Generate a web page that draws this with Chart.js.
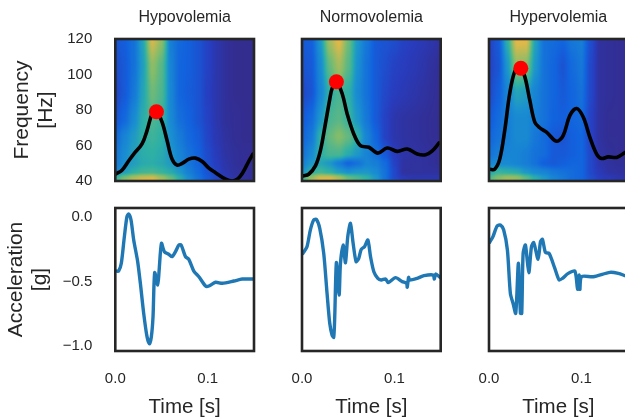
<!DOCTYPE html>
<html><head><meta charset="utf-8">
<style>html,body{margin:0;padding:0;background:#fff;overflow:hidden;width:625px;height:420px}
#w{position:relative;width:625px;height:420px;overflow:hidden}canvas{position:absolute}</style>
<script src="https://cdn.jsdelivr.net/npm/chart.js@4/dist/chart.umd.min.js"></script>
</head><body><div id="w"></div>
<script>
const titles=["Hypovolemia","Normovolemia","Hypervolemia"];
const freqTicks=[40,60,80,100,120];
const accelTicks=[-1,-0.5,0];
const timeTicks=[0,0.1];
const timeBins=[0,.01,.02,.03,.04,.05,.06,.07,.08,.09,.1,.11,.12,.13,.14,.15];
const freqBins=[120,105,90,75,65,55,50,45,42,40];
const heat1=[
[.20,.24,.30,.46,.82,.68,.34,.27,.24,.20,.14,.08,.04,.02,.02,.02],
[.18,.22,.30,.44,.68,.58,.36,.26,.24,.20,.14,.08,.04,.02,.02,.02],
[.15,.22,.32,.46,.62,.56,.37,.26,.23,.20,.13,.08,.04,.02,.02,.02],
[.20,.27,.38,.49,.56,.52,.38,.29,.25,.20,.14,.08,.04,.03,.02,.02],
[.27,.36,.43,.50,.53,.50,.40,.33,.27,.23,.15,.09,.05,.03,.02,.02],
[.31,.39,.45,.49,.50,.48,.42,.36,.30,.25,.17,.11,.06,.04,.03,.03],
[.32,.40,.44,.48,.49,.47,.43,.37,.31,.26,.18,.12,.07,.04,.03,.03],
[.36,.44,.50,.54,.55,.52,.48,.42,.34,.28,.20,.14,.08,.05,.04,.03],
[.50,.62,.72,.78,.80,.70,.60,.48,.38,.30,.22,.15,.10,.06,.04,.03],
[.55,.70,.80,.86,.86,.75,.65,.50,.40,.30,.22,.15,.10,.06,.04,.03]];
const heat2=[
[.22,.24,.42,.72,.85,.62,.42,.32,.22,.20,.18,.14,.12,.10,.08,.05],
[.20,.22,.38,.60,.72,.58,.40,.30,.22,.18,.14,.12,.10,.08,.05,.03],
[.16,.20,.36,.50,.55,.50,.38,.30,.22,.16,.12,.10,.08,.06,.04,.02],
[.22,.28,.42,.55,.58,.52,.42,.32,.22,.14,.08,.06,.05,.04,.03,.02],
[.26,.32,.50,.60,.66,.60,.50,.36,.26,.14,.08,.06,.05,.04,.03,.02],
[.30,.38,.50,.55,.55,.48,.42,.36,.30,.22,.12,.07,.06,.05,.04,.03],
[.34,.42,.46,.42,.34,.26,.30,.36,.34,.28,.14,.06,.05,.05,.04,.03],
[.40,.50,.54,.50,.44,.40,.42,.42,.38,.30,.16,.05,.05,.05,.05,.05],
[.50,.68,.80,.80,.72,.60,.55,.50,.42,.30,.16,.10,.08,.08,.08,.08],
[.55,.72,.84,.85,.75,.62,.58,.50,.42,.30,.20,.12,.10,.10,.10,.10]];
const heat3=[
[.14,.22,.50,.85,.85,.45,.30,.28,.26,.32,.34,.18,.05,.04,.03,.03],
[.14,.20,.42,.68,.66,.42,.30,.26,.20,.28,.32,.16,.05,.04,.03,.03],
[.16,.24,.36,.46,.44,.36,.30,.26,.22,.26,.30,.16,.05,.04,.03,.03],
[.22,.28,.34,.38,.38,.34,.30,.25,.24,.26,.28,.14,.05,.03,.03,.03],
[.26,.30,.34,.38,.38,.32,.28,.22,.20,.24,.26,.14,.05,.03,.03,.03],
[.30,.34,.36,.36,.34,.30,.28,.22,.22,.24,.26,.16,.06,.04,.03,.03],
[.36,.38,.38,.36,.34,.30,.24,.22,.24,.26,.26,.16,.08,.05,.04,.04],
[.46,.52,.50,.48,.42,.38,.36,.32,.30,.28,.26,.16,.10,.06,.05,.05],
[.55,.65,.70,.68,.58,.48,.42,.36,.32,.28,.26,.18,.12,.10,.08,.06],
[.60,.68,.74,.70,.60,.50,.44,.36,.32,.28,.26,.18,.14,.10,.08,.06]];
const fTime1=[0,.0072,.0145,.0199,.0289,.0343,.0398,.0445,.0506,.056,.0614,.0669,.0723,.0795,.0867,.094,.1012,.1084,.1193,.1265,.1319,.1373,.1446,.1489];
const fVal1=[43.8,46.1,51.4,55.2,60.9,68.4,77.9,79.2,73.2,62.8,52.3,48.9,49.9,52.3,52.9,51,47.2,44.7,41,40,41,44.2,51.4,55.2];
const fTime2=[.001,.0072,.0145,.0199,.0253,.03,.0325,.0372,.0434,.0488,.056,.0632,.0723,.082,.0922,.103,.1138,.1247,.1337,.1409,.1482];
const fVal2=[42.8,43.8,48.5,57.1,72.2,86,92.1,95.9,89.3,77.9,66.5,59.9,59,55.7,58.6,56.7,58,55.2,54.8,57,61.4];
const fTime3=[.0007,.0061,.0116,.017,.0224,.0278,.0332,.0387,.0441,.0495,.0549,.0622,.073,.0802,.0875,.0947,.1019,.1091,.1164,.1218,.129,.1381,.1471];
const fVal3=[46.6,46.6,52.3,68.4,89.3,101.6,104.5,98.8,85.5,73.2,70,67.5,62.4,65.6,77,80.8,76,64.6,55.2,52.7,53.6,53.3,56.1];
const peakTime=[.0445,.0372,.0344];
const peakFreq=[79,95.9,103.5];
const aTime1=[.0007,.0036,.0065,.0098,.0126,.0145,.017,.0199,.0242,.0271,.0307,.0343,.0369,.039,.0408,.0426,.0459,.0473,.0499,.0531,.0578,.0614,.0651,.0687,.0712,.0759,.0795,.0849,.0904,.0976,.1012,.1084,.1157,.1283,.1373,.1489];
const aVal1=[-.419,-.419,-.359,-.152,.003,.023,-.023,-.178,-.346,-.514,-.747,-.928,-.984,-.928,-.773,-.432,-.527,-.424,-.204,-.269,-.289,-.307,-.269,-.217,-.217,-.307,-.328,-.419,-.463,-.535,-.535,-.506,-.514,-.496,-.481,-.481];
const aTime2=[.001,.0054,.009,.0126,.0155,.0192,.0235,.0271,.03,.0325,.0343,.0354,.0372,.0401,.0416,.0445,.047,.0495,.0524,.0553,.0585,.0614,.064,.0676,.0712,.0741,.0777,.082,.0857,.0904,.0932,.1012,.1084,.1131,.1138,.1153,.1164,.1247,.1319,.142,.1431,.1446,.1493];
const aVal2=[-.282,-.23,-.101,-.023,-.018,-.088,-.282,-.592,-.824,-.915,-.933,-.773,-.354,-.605,-.359,-.217,-.354,-.152,-.049,-.204,-.346,-.32,-.251,-.23,-.178,-.307,-.424,-.475,-.488,-.481,-.509,-.47,-.501,-.514,-.545,-.468,-.488,-.475,-.455,-.45,-.481,-.442,-.468];
const aTime3=[.0007,.0043,.0087,.0123,.0159,.0199,.0231,.026,.0289,.0318,.034,.0354,.0369,.0394,.043,.0459,.0484,.0531,.0557,.0578,.0611,.065,.0712,.0759,.0795,.0857,.0929,.0958,.0976,.0983,.1001,.1128,.1308,.1399,.1471];
const aVal3=[-.196,-.152,-.07,-.062,-.101,-.256,-.592,-.669,-.747,-.359,-.747,-.747,-.282,-.217,-.432,-.23,-.199,-.328,-.191,-.173,-.276,-.282,-.398,-.488,-.475,-.437,-.419,-.561,-.45,-.561,-.463,-.463,-.429,-.437,-.455];

const heats=[heat1,heat2,heat3];
const fTimes=[fTime1,fTime2,fTime3],fVals=[fVal1,fVal2,fVal3];
const aTimes=[aTime1,aTime2,aTime3],aVals=[aVal1,aVal2,aVal3];
const pts=(xs,ys)=>xs.map((x,i)=>({x,y:ys[i]}));

const cmapStops=[[0,53,42,135],[.12,40,60,190],[.25,18,98,222],[.4,26,144,208],[.5,46,176,165],[.65,128,188,108],[.85,232,184,70],[1,249,251,14]];
function cmap(v){for(let i=1;i<cmapStops.length;i++){const a=cmapStops[i-1],b=cmapStops[i];if(v<=b[0]){const t=(v-a[0])/(b[0]-a[0]);return [a[1]+t*(b[1]-a[1]),a[2]+t*(b[2]-a[2]),a[3]+t*(b[3]-a[3])];}}return cmapStops[cmapStops.length-1].slice(1);}
function locate(arr,v){for(let i=0;i<arr.length-1;i++){const a=arr[i],b=arr[i+1];const t=(v-a)/(b-a);if(t<=1||i===arr.length-2)return [i,Math.max(0,Math.min(1,t))];}}
const smooth=t=>t*t*(3-2*t)*.6+t*.4;
function heatPlugin(grid){return {id:'heat',beforeDatasetsDraw(c){
  const a=c.chartArea,xs=c.scales.x,ys=c.scales.y,w=Math.round(a.right-a.left),h=Math.round(a.bottom-a.top);
  const off=document.createElement('canvas');off.width=w;off.height=h;const g=off.getContext('2d');const im=g.createImageData(w,h);
  for(let j=0;j<h;j++){const [r,fr0]=locate(freqBins,ys.getValueForPixel(a.top+j+.5));const fr=smooth(fr0);
    for(let i=0;i<w;i++){const [q,ft0]=locate(timeBins,xs.getValueForPixel(a.left+i+.5));const ft=smooth(ft0);
      const v=(grid[r][q]*(1-ft)+grid[r][q+1]*ft)*(1-fr)+(grid[r+1][q]*(1-ft)+grid[r+1][q+1]*ft)*fr;
      const col=cmap(v),k=(j*w+i)*4;im.data[k]=col[0];im.data[k+1]=col[1];im.data[k+2]=col[2];im.data[k+3]=255;}}
  g.putImageData(im,0,0);c.ctx.drawImage(off,a.left,a.top,a.right-a.left,a.bottom-a.top);
}};}
const framePlugin={id:'frame',afterDraw(c){const a=c.chartArea,x=c.ctx;x.save();x.strokeStyle='#262626';x.lineWidth=2.6;x.strokeRect(a.left,a.top,a.right-a.left,a.bottom-a.top);x.restore();}};

const FONT='"Liberation Sans", Arial, sans-serif',INK='#262626';
const lefts=[115.3,302,488.6],PW=138.7;
const TOP1=39,BOT1=181,TOP2=208,BOT2=351;
const wrap=document.getElementById('w');
const noPad=s=>{s.paddingTop=s.paddingBottom=s.paddingLeft=s.paddingRight=0;};
function mk(col,row){
  const isL=col===0,isB=row===1,pad=2,lp=24,bp=10;
  const cl=isL?0:lefts[col]-lp, cw=(isL?lefts[0]:lp)+PW+pad;
  const ct=isB?TOP2-8:0, cb=isB?420:BOT1+bp;
  const cv=document.createElement('canvas');
  cv.style.left=cl+'px';cv.style.top=ct+'px';cv.width=Math.ceil(cw);cv.height=cb-ct;cv.style.width=Math.ceil(cw)+'px';cv.style.height=(cb-ct)+'px';
  wrap.appendChild(cv);
  const datasets=isB?[{type:'scatter',data:pts(aTimes[col],aVals[col]),showLine:true,borderColor:'#1f77b4',borderWidth:3.4,pointRadius:0,tension:.25,borderJoinStyle:'round',borderCapStyle:'round'}]
   :[{type:'scatter',data:pts([peakTime[col]],[peakFreq[col]]),backgroundColor:'#ff0000',borderWidth:0,pointRadius:7.5,clip:false},
     {type:'scatter',data:pts(fTimes[col],fVals[col]),showLine:true,borderColor:'#000',borderWidth:3.6,pointRadius:0,tension:.35,borderJoinStyle:'round',borderCapStyle:'round'}];
  new Chart(cv,{type:'scatter',data:{datasets},
   plugins:(isB?[]:[heatPlugin(heats[col])]).concat([framePlugin]),
   options:{responsive:false,animation:false,devicePixelRatio:1,
    layout:{autoPadding:false,padding:{left:isL?0:lp,right:cv.width-(isL?lefts[0]:lp)-PW,top:isB?8:0,bottom:isB?0:bp}},
    plugins:{legend:{display:false},tooltip:{enabled:false},
      title:{display:!isB,text:titles[col],fullSize:false,color:INK,font:{family:FONT,size:16,weight:'normal',lineHeight:1.2},padding:{top:8.4,bottom:11.4}}},
    scales:{
     x:{type:'linear',min:0,max:.15,display:isB,grid:{display:false},border:{display:false},
        afterBuildTicks:s=>{s.ticks=timeTicks.map(value=>({value}));},
        afterFit:s=>{noPad(s);s.height=isB?420-BOT2:0;},
        ticks:{autoSkip:false,maxRotation:0,padding:11,color:INK,font:{family:FONT,size:15},callback:v=>v.toFixed(1)},
        title:{display:true,text:'Time [s]',color:INK,font:{family:FONT,size:20.5},padding:{top:0,bottom:0}}},
     y:{type:'linear',min:isB?-1.039:40,max:isB?.07:120,display:isL,grid:{display:false},border:{display:false},
        afterBuildTicks:s=>{s.ticks=(isB?accelTicks:freqTicks).map(value=>({value}));},
        afterFit:s=>{noPad(s);s.width=isL?lefts[0]:0;},
        ticks:{autoSkip:false,padding:15,color:INK,font:{family:FONT,size:15},callback:v=>isB?(v<0?'\u2212':'')+Math.abs(v).toFixed(1):String(v)},
        title:{display:true,text:isB?['Acceleration','[g]']:['Frequency','[Hz]'],color:INK,font:{family:FONT,size:21,lineHeight:1.15},padding:{top:isB?4:10,bottom:0}}}
    }}});
}
for(let r=0;r<2;r++)for(let c=0;c<3;c++)mk(c,r);
</script></body></html>
